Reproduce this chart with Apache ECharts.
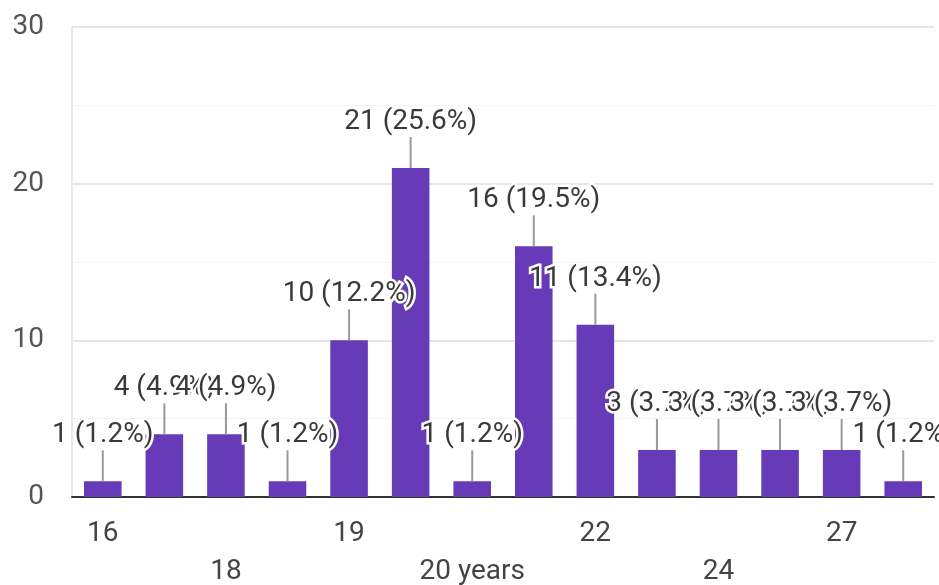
<!DOCTYPE html>
<html>
<head>
<meta charset="utf-8">
<script src="https://cdn.jsdelivr.net/npm/echarts@6/dist/echarts.min.js"></script>
<style>
  html, body { margin: 0; padding: 0; background: #fff; }
  #chart { width: 939px; height: 585px; }
</style>
</head>
<body>
<div id="chart"></div>
<script>
// Age answers and how many respondents gave each one
const categories = ['16', '17', '18', '18 years', '19', '20', '20 years', '21', '22', '23', '24', '25', '27', '28'];
const counts = [1, 4, 4, 1, 10, 21, 1, 16, 11, 3, 3, 3, 3, 1];
const yTicks = [0, 10, 20, 30];

const total = counts.reduce((a, b) => a + b, 0);
const pct = v => (v / total * 100).toFixed(1) + '%';

const chart = echarts.init(document.getElementById('chart'));
const FONT = 'Roboto, "Noto Sans", sans-serif';

chart.setOption({
  animation: false,
  backgroundColor: '#ffffff',
  grid: { left: 72, right: 5, top: 27, bottom: 88, outerBoundsMode: 'none', containLabel: false },
  xAxis: {
    type: 'category',
    data: categories,
    axisLine: { show: true, lineStyle: { color: '#333', width: 2 } },
    axisTick: { show: false },
    axisLabel: {
      interval: 0,
      margin: 18,
      color: '#444',
      fontFamily: FONT,
      fontSize: 28,
      lineHeight: 38,
      // every other answer is labelled, alternating between two rows
      formatter: (val, idx) => {
        if (idx % 2 === 1) return '';
        return idx % 4 === 2 ? '\n' + val : val;
      }
    }
  },
  yAxis: {
    type: 'value',
    min: yTicks[0],
    max: yTicks[yTicks.length - 1],
    interval: 10,
    minorTick: { show: false, splitNumber: 2 },
    axisLine: { show: true, lineStyle: { color: '#eaeaea', width: 2 } },
    axisTick: { show: false },
    axisLabel: { color: '#555', fontFamily: FONT, fontSize: 28, margin: 28 },
    splitLine: { lineStyle: { color: '#e6e6e6', width: 2 } },
    minorSplitLine: { show: true, lineStyle: { color: '#f3f3f3', width: 1 } }
  },
  series: [
    {
      type: 'bar',
      data: counts,
      barWidth: '61%',
      itemStyle: { color: '#673ab7' },
      z: 2
    },
    {
      // value callouts: leader line from bar top plus "n (p%)" text
      type: 'custom',
      data: counts.map((v, i) => [i, v]),
      z: 5,
      clip: false,
      renderItem: (params, api) => {
        const p = api.coord([api.value(0), api.value(1)]);
        const v = api.value(1);
        return {
          type: 'group',
          children: [
            {
              type: 'line',
              shape: { x1: p[0], y1: p[1], x2: p[0], y2: p[1] - 31 },
              style: { stroke: '#999', lineWidth: 2 }
            },
            {
              type: 'text',
              x: p[0],
              y: p[1] - 46,
              style: {
                text: v + ' (' + pct(v) + ')',
                fontFamily: FONT,
                fontSize: 28,
                fill: '#3a3a3a',
                stroke: '#ffffff',
                lineWidth: 5,
                align: 'center',
                verticalAlign: 'middle'
              }
            }
          ]
        };
      }
    }
  ]
});
</script>
</body>
</html>
